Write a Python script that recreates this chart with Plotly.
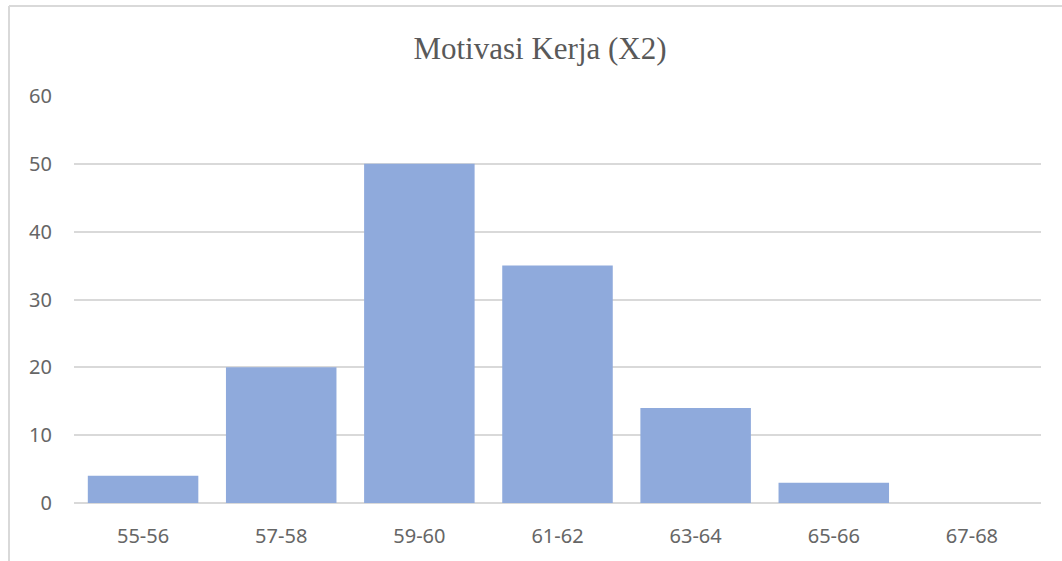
import plotly.graph_objects as go

categories = ["55-56", "57-58", "59-60", "61-62", "63-64", "65-66", "67-68"]
values = [4, 20, 50, 35, 14, 3, 0]
y_ticks = [0, 10, 20, 30, 40, 50, 60]

W, H = 1062, 561
ml, mr, mt, mb = 74, 21, 96, 58
pw, ph = W - ml - mr, H - mt - mb

fig = go.Figure(go.Bar(x=categories, y=values, marker=dict(color="#8FAADC", line=dict(width=0)),
                       hoverinfo="x+y"))

bx = -(ml - 9) / pw
by = 1 + (mt - 6) / ph

fig.update_layout(
    width=W, height=H,
    margin=dict(l=ml, r=mr, t=mt, b=mb),
    paper_bgcolor="white", plot_bgcolor="white",
    bargap=0.2,
    showlegend=False,
    title=dict(text="Motivasi Kerja (X2)", x=540 / W, xanchor="center", y=1 - 48 / H, yanchor="middle",
               font=dict(family="Liberation Serif", size=31, color="#595959")),
    font=dict(family="Noto Sans", size=20, color="#595959"),
    xaxis=dict(showgrid=False, showline=False, ticks="", ticklabelstandoff=19,
               tickfont=dict(size=20, color="#666666")),
    yaxis=dict(range=[0, 60], tickvals=y_ticks, showgrid=True, gridcolor="#D9D9D9", gridwidth=1.5,
               zeroline=True, zerolinecolor="#D9D9D9", zerolinewidth=1.5, showline=False, ticks="",
               ticklabelstandoff=21, tickfont=dict(size=20, color="#666666")),
    shapes=[
        dict(type="line", xref="paper", yref="paper", x0=bx, x1=bx, y0=by, y1=-(mb + 5) / ph,
             line=dict(color="#D9D9D9", width=2)),
        dict(type="line", xref="paper", yref="paper", x0=bx, x1=1 + (mr + 5) / pw, y0=by, y1=by,
             line=dict(color="#D9D9D9", width=2)),
    ],
)

fig.write_html("out.html", config={"displayModeBar": False},
               post_script="document.body.style.margin='0px';document.body.style.padding='0px';")
